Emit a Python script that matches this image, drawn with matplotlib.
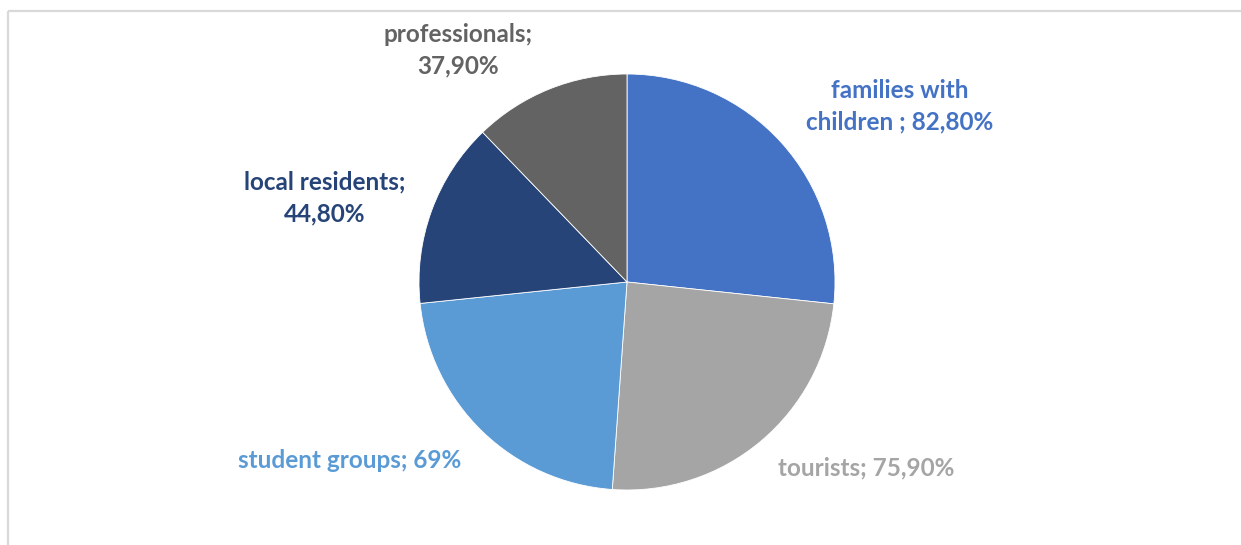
import matplotlib.pyplot as plt

# Share of visitor groups (%)
groups = ["families with\nchildren", "tourists", "student groups", "local residents", "professionals"]
shares = [82.8, 75.9, 69.0, 44.8, 37.9]
share_labels = ["82,80%", "75,90%", "69%", "44,80%", "37,90%"]
colors = ["#4472C4", "#A5A5A5", "#5B9BD5", "#264478", "#636363"]

W, H = 1241, 545
fig = plt.figure(figsize=(W / 100, H / 100), dpi=100)
ax = fig.add_axes([0, 0, 1, 1])

# chart frame (only top and left edges visible)
ax.plot([8, W], [H - 11, H - 11], color="#D9D9D9", lw=1.6, solid_capstyle="butt")
ax.plot([8, 8], [0, H - 11], color="#D9D9D9", lw=1.6, solid_capstyle="butt")

# descenders of the caption line above the frame
for ch, x in [("y", 148), ("g", 443), ("p", 492)]:
    ax.text(x, H + 9, ch, fontsize=17, family="Open Sans", color="#222222",
            ha="center", va="baseline", clip_on=False)

cx, cy, r = 627, H - 282, 208
ax.pie(shares, colors=colors, startangle=90, counterclock=False,
       center=(cx, cy), radius=r, frame=True,
       wedgeprops=dict(linewidth=0.6, edgecolor="white"))
ax.set_xlim(0, W)
ax.set_ylim(0, H)
ax.axis("off")

label_pos = [(900, 106), (866, 468), (350, 460), (325, 198), (458, 50)]
for g, s, c, (x, y) in zip(groups, share_labels, colors, label_pos):
    if g == "families with\nchildren":
        txt = "families with\nchildren ; " + s
    elif g in ("local residents", "professionals"):
        txt = g + ";\n" + s
    else:
        txt = g + "; " + s
    ax.text(x, H - y, txt, ha="center", va="center", fontsize=17.5,
            fontweight="bold", family="Lato", color=c, linespacing=1.43)

fig.savefig("out.png", dpi=100)
